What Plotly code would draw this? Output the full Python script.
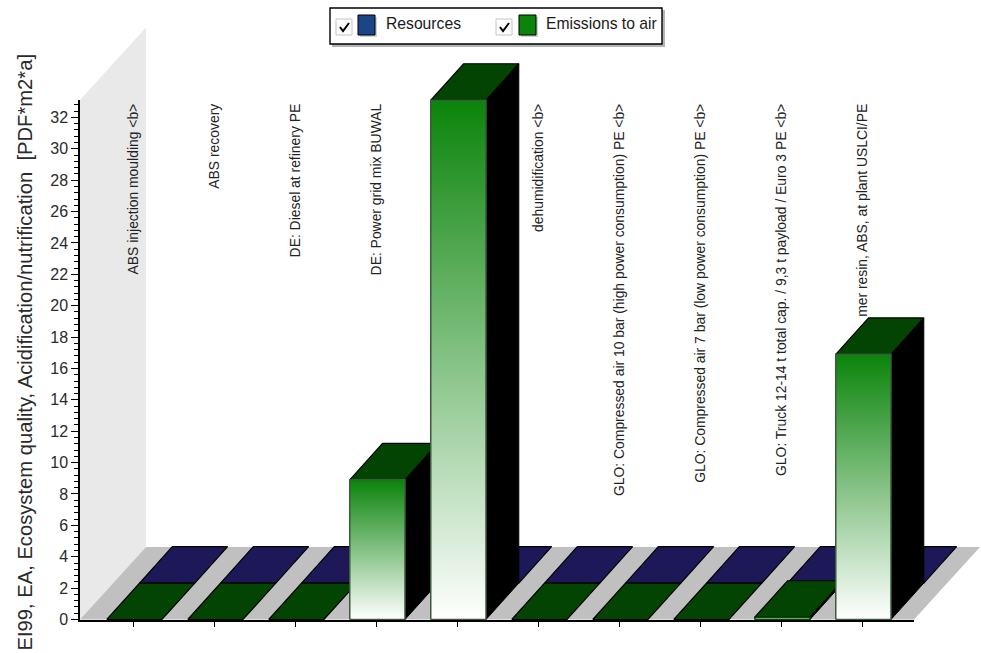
import plotly.graph_objects as go

# Chart content
CATEGORIES = [
    "ABS injection moulding &lt;b&gt;",
    "ABS recovery",
    "DE: Diesel at refinery PE",
    "DE: Power grid mix BUWAL",
    "",
    "dehumidification &lt;b&gt;",
    "GLO: Compressed air 10 bar (high power consumption) PE &lt;b&gt;",
    "GLO: Compressed air 7 bar (low power consumption) PE &lt;b&gt;",
    "GLO: Truck 12-14 t total cap. / 9,3 t payload / Euro 3 PE &lt;b&gt;",
    "mer resin, ABS, at plant USLCI/PE",
]
RESOURCES = [0, 0, 0, 0, 0, 0, 0, 0, 0, 0]
EMISSIONS = [0, 0, 0, 8.9, 33.1, 0, 0, 0, 0.15, 16.9]
Y_TICKS = list(range(0, 34, 2))
AXIS_TITLE = "EI99, EA, Ecosystem quality, Acidification/nutrification\u00a0\u00a0[PDF*m2*a]"

# Canvas and scale: one category step and one value unit, in pixels
W, H = 981, 653
STEP, UNIT = 81.0, 15.69
X0_PX, Y0_PX = 133.0, 619.5
AX_LEFT, AX_RIGHT, AX_TOP = 80.0, 914.0, 100.0

# Oblique projection of the 3D box
BAR_L, BAR_R = -26.25 / STEP, 29.0 / STEP
DEPTH_X, DEPTH_Y = 32.8 / STEP, 36.4 / UNIT

FLOOR = "#c0c0c0"
WALL = "#e9e9e9"
NAVY_TOP = "#1d1858"
GREEN_TOP = "#034403"
GREEN = "#0a840a"
NAVY_SWATCH = "#1c4587"
EDGE = "#3b5b3b"
TEXT = "#2b2b2b"
FONT = "Liberation Sans"


def polygon(xs, ys, **style):
    return go.Scatter(
        x=list(xs) + [xs[0]], y=list(ys) + [ys[0]], mode="lines", fill="toself",
        hoverinfo="skip", showlegend=False, xaxis="x", yaxis="y", **style
    )


def box_traces(cat, value, row, top_colour, name):
    """Side, top and front faces of a single bar standing in the given depth row."""
    xl, xr = cat + BAR_L + row * DEPTH_X, cat + BAR_R + row * DEPTH_X
    yb = row * DEPTH_Y
    yt = yb + value
    traces = []
    if value > 0:
        traces.append(polygon(
            [xr, xr + DEPTH_X, xr + DEPTH_X, xr], [yb, yb + DEPTH_Y, yt + DEPTH_Y, yt],
            line=dict(color="#000000", width=1), fillcolor="#000000", name=name,
        ))
    traces.append(polygon(
        [xl, xr, xr + DEPTH_X, xl + DEPTH_X], [yt, yt, yt + DEPTH_Y, yt + DEPTH_Y],
        line=dict(color="#000000", width=1.2), fillcolor=top_colour, name=name,
    ))
    if value > 0:
        # Very low bars read as a dark sliver rather than a gradient
        edge = EDGE if value >= 1 else GREEN_TOP
        traces.append(polygon(
            [xl, xr, xr, xl], [yb, yb, yt, yt],
            line=dict(color=edge, width=1.5), name=name,
            fillgradient=dict(type="vertical", colorscale=[[0, "#ffffff"], [1, GREEN]]),
        ))
    return traces


fig = go.Figure()

# Series are painted back row first, then front row from left to right
for i, v in enumerate(RESOURCES):
    fig.add_traces(box_traces(i, v, 1, NAVY_TOP, "Resources"))
for i, v in enumerate(EMISSIONS):
    fig.add_traces(box_traces(i, v, 0, GREEN_TOP, "Emissions to air"))

# Empty trace that keeps the value axis subplot alive
fig.add_trace(go.Scatter(x=[], y=[], xaxis="x2", yaxis="y2", showlegend=False, hoverinfo="skip"))


def px_x(px):
    return (px - X0_PX) / STEP


def px_y(px):
    return (Y0_PX - px) / UNIT


back_dx = 66.0 / STEP
back_dy = 72.5 / UNIT
top_val = px_y(AX_TOP)
x_left, x_right = px_x(AX_LEFT), px_x(AX_RIGHT)


def path(pts):
    return "M " + " L ".join(f"{x},{y}" for x, y in pts) + " Z"


def page_rect(x0, y0, x1, y1, fill, line=None, width=0, layer="above"):
    return dict(
        type="rect", xref="paper", yref="paper", layer=layer,
        x0=x0 / W, x1=x1 / W, y0=1 - y0 / H, y1=1 - y1 / H,
        fillcolor=fill, line=dict(color=line or fill, width=width),
    )


def page_path(pts, colour, width):
    d = "M " + " L ".join(f"{x / W},{1 - y / H}" for x, y in pts)
    return dict(type="path", xref="paper", yref="paper", layer="above", path=d,
                line=dict(color=colour, width=width))


shapes = [
    # Back wall and floor of the 3D frame
    dict(type="path", xref="x", yref="y", layer="below", fillcolor=WALL, line=dict(width=0),
         path=path([(x_left, 0), (x_left, top_val), (x_left + back_dx, top_val + back_dy),
                    (x_left + back_dx, back_dy)])),
    dict(type="path", xref="x", yref="y", layer="below", fillcolor=FLOOR, line=dict(width=0),
         path=path([(x_left, 0), (x_right, 0), (x_right + back_dx, back_dy),
                    (x_left + back_dx, back_dy)])),
    # Legend frame
    page_rect(332, 10, 665, 47, "#b5b5b5"),
    page_rect(330, 8, 662, 44, "#ffffff", "#000000", 1.4),
]

# Value axis title
annotations = [dict(
    xref="paper", yref="paper", x=24 / W, y=1 - 352.5 / H, text=AXIS_TITLE, showarrow=False,
    textangle=-90, xanchor="center", yanchor="middle",
    font=dict(family=FONT, size=20.2, color=TEXT),
)]

LEGEND_ITEMS = [("Resources", NAVY_SWATCH, 336, 358, 384), ("Emissions to air", GREEN, 496, 519, 544)]
for label, colour, check_x, swatch_x, text_x in LEGEND_ITEMS:
    shapes += [
        page_rect(check_x, 19, check_x + 16, 35, "#ffffff", "#c4c4c4", 1),
        page_path([(check_x + 4, 27), (check_x + 7, 31), (check_x + 13, 23)], "#000000", 2),
        page_rect(swatch_x + 2, 17, swatch_x + 19, 37, "#d0d0d0"),
        page_rect(swatch_x, 15, swatch_x + 17, 35, colour, "#000000", 1),
    ]
    annotations.append(dict(
        xref="paper", yref="paper", x=text_x / W, y=1 - 23.5 / H, text=label, showarrow=False,
        xanchor="left", yanchor="middle", font=dict(family=FONT, size=15.7, color="#1a1a1a"),
    ))

fig.update_layout(
    width=W, height=H, autosize=False,
    margin=dict(l=0, r=0, t=0, b=0, autoexpand=False),
    paper_bgcolor="#ffffff", plot_bgcolor="rgba(0,0,0,0)",
    showlegend=False,
    shapes=shapes, annotations=annotations,
    font=dict(family=FONT, color=TEXT),
    # Full-page axes carrying the projected geometry; category labels hang from the upper edge
    xaxis=dict(
        domain=[0, 1], range=[px_x(0), px_x(W)], anchor="free", position=1 - 100.0 / H,
        side="bottom", showgrid=False, zeroline=False, showline=False, ticks="",
        tickmode="array", tickvals=list(range(len(CATEGORIES))), ticktext=CATEGORIES,
        tickangle=-90, tickfont=dict(family=FONT, size=13.9, color="#222222"),
        layer="below traces", ticklabeloverflow="allow",
    ),
    yaxis=dict(domain=[0, 1], range=[px_y(H), px_y(0)], visible=False),
    # Visible axes of the chart
    xaxis2=dict(
        domain=[AX_LEFT / W, AX_RIGHT / W], range=[x_left, x_right], anchor="y2",
        showgrid=False, zeroline=False, showline=True, linecolor="#000000", linewidth=1.5,
        ticks="outside", ticklen=6, tickwidth=1.2, tickcolor="#000000",
        tickmode="array", tickvals=list(range(len(CATEGORIES))), showticklabels=False,
    ),
    yaxis2=dict(
        domain=[1 - Y0_PX / H, 1 - AX_TOP / H], range=[0, top_val], anchor="x2",
        showgrid=False, zeroline=False, showline=True, linecolor="#000000", linewidth=1.5,
        ticks="outside", ticklen=7, tickwidth=1.2, tickcolor="#000000",
        tickmode="array", tickvals=Y_TICKS, tickfont=dict(family=FONT, size=16, color=TEXT),
        minor=dict(dtick=0.4, tick0=0, ticks="outside", ticklen=4.5, tickwidth=1, tickcolor="#000000"),
    ),
)

fig.write_html("out.html")
